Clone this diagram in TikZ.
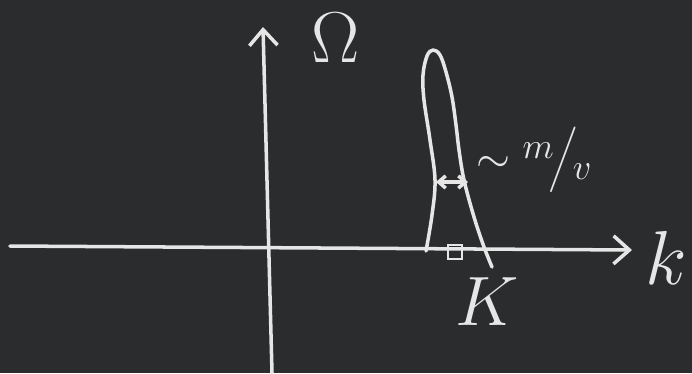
\documentclass[tikz,border=0pt]{standalone}
\usepackage{amsmath}
\usetikzlibrary{arrows.meta}
\definecolor{board}{HTML}{2B2C2E}
\definecolor{chalk}{HTML}{E6E6E6}
\tikzset{
  chalkline/.style={draw=chalk, line width=2pt, line cap=round, line join=round},
  chalktext/.style={text=chalk, inner sep=0pt, font=\Huge},
}

\begin{document}
\begin{tikzpicture}[x=0.02cm, y=-0.02cm, >={Straight Barb[length=9pt, width=16pt]}]
        % Board
        \fill[board] (0,0) rectangle (692,373);
        \useasboundingbox (0,0) rectangle (692,373);

        % Axes
        \coordinate (omegabot) at (272,373);
        \coordinate (omegatop) at (263,27);
        \coordinate (kleft) at (10,246);
        \coordinate (kright) at (632,250);
        \draw[chalkline, ->] (omegabot) -- (omegatop);
        \draw[chalkline, ->] (kleft) -- (kright);

        % Labels
        \node[chalktext] (omega) at (336,38) {\scalebox{1.65}{$\Omega$}};
        \node[chalktext] (k) at (666,258) {\scalebox{1.75}{$k$}};
        \node[chalktext] (K) at (487,302) {\scalebox{1.6}{$K$}};

        % Peak at K
        \draw[chalkline] plot[smooth, tension=0.6] coordinates {
          (426,251) (432,215) (435,180) (430,140) (424,100) (423,75)
          (427,56) (433,50) (440,55) (446,72) (452,97) (456,125)
          (459,150) (464,180) (474,217) (484,247) (492,267)};
        \node[draw=chalk, line width=1.4pt, minimum size=8pt, inner sep=0pt] (Kmark) at (455,252) {};

        % Width of the peak
        \coordinate (wleft) at (436,182);
        \coordinate (wright) at (468,182);
        \draw[chalkline, <->, >={Straight Barb[length=4pt, width=7pt]}] (wleft) -- (wright);
        \node[chalktext] (tilde) at (493,164) {$\sim$};
        \node[chalktext, font=\huge] (width) at (557,160)
          {$\raisebox{6pt}{$m$}\kern-3pt\Big/\kern-3pt\raisebox{-6pt}{$v$}$};
\end{tikzpicture}
\end{document}
